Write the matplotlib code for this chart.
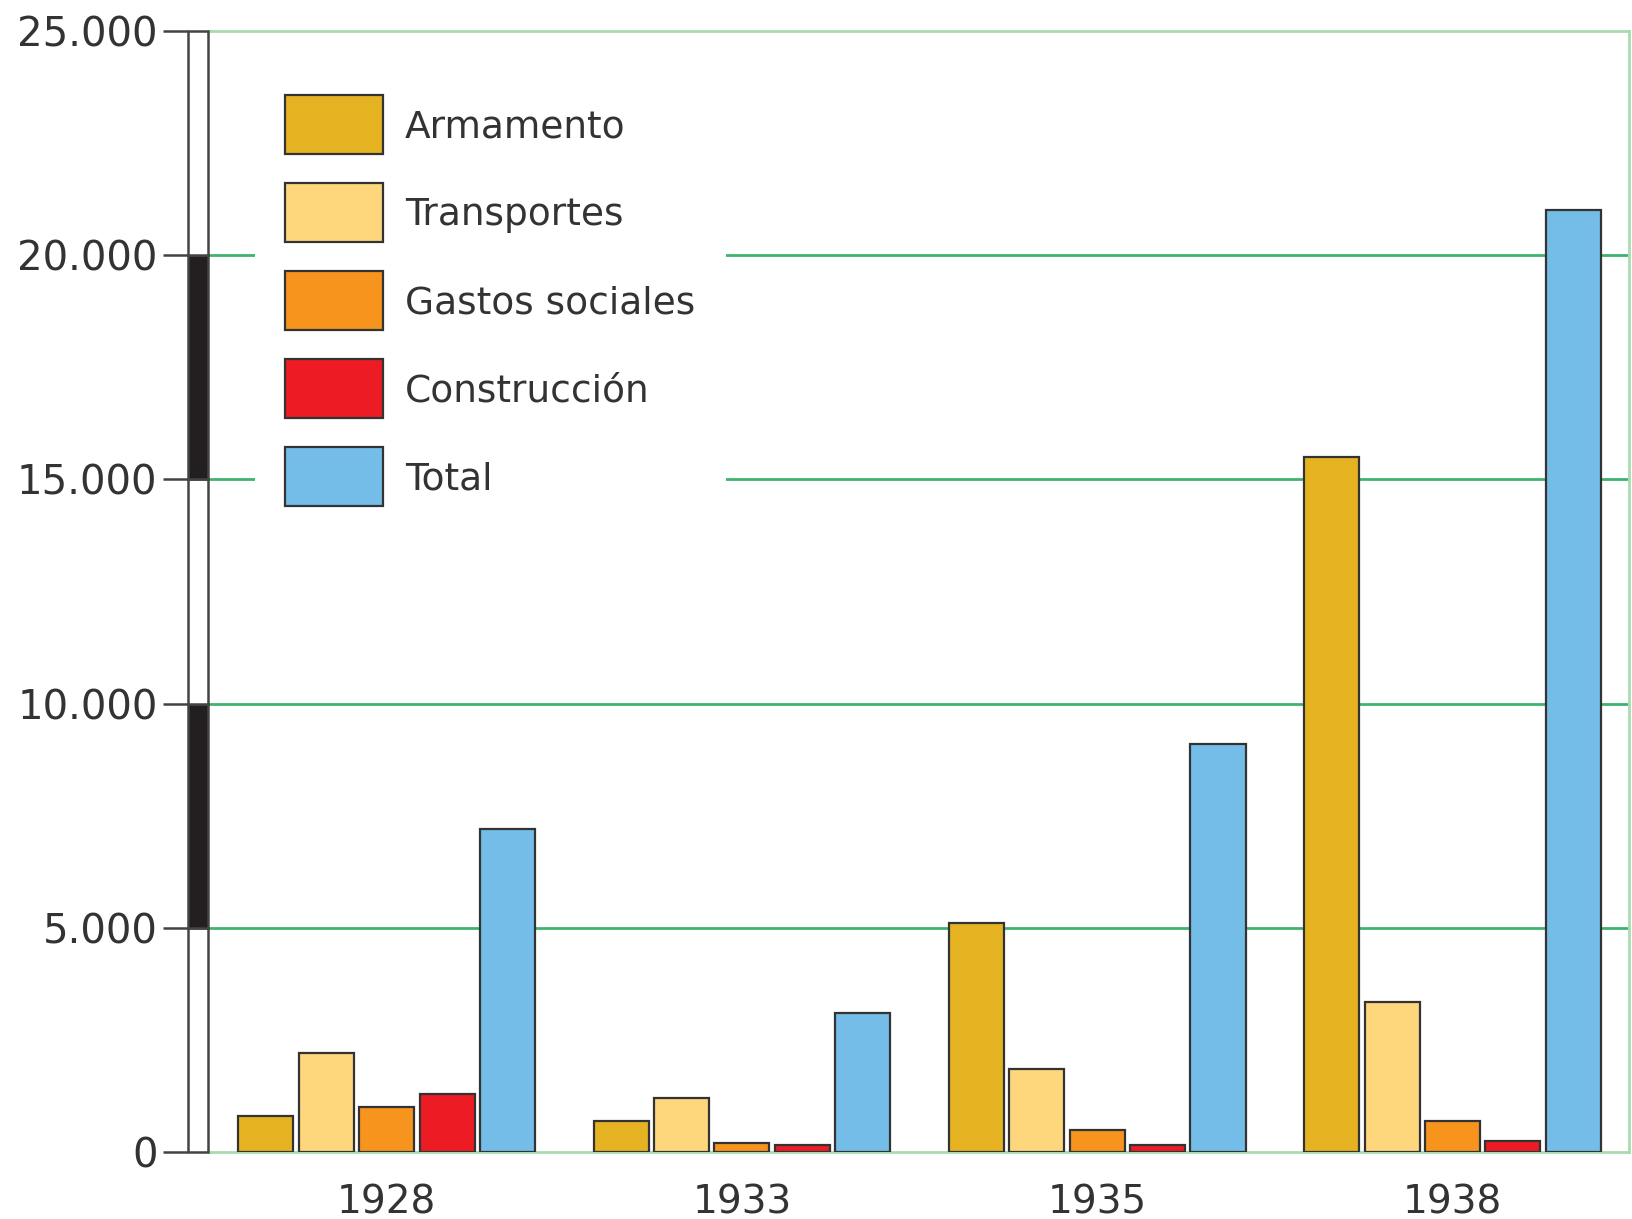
import matplotlib.pyplot as plt
import matplotlib.patches as mpatches
import numpy as np

# gasto publico aleman (millones de marcos)
years      = ["1928", "1933", "1935", "1938"]
series     = ["Armamento", "Transportes", "Gastos sociales", "Construcción", "Total"]
armamento  = [800, 700, 5100, 15500]
transporte = [2200, 1200, 1850, 3350]
sociales   = [1000, 200, 500, 700]
construc   = [1300, 150, 150, 250]
total      = [7200, 3100, 9100, 21000]
yticks     = [0, 5000, 10000, 15000, 20000, 25000]
ylabels    = ["0", "5.000", "10.000", "15.000", "20.000", "25.000"]

colors = ["#E5B222", "#FED77C", "#F7941D", "#ED1C24", "#74BDE8"]
edge   = "#333333"
grid_g = "#3DB36F"
light_g = "#A8DDB0"
text_c = "#333333"

fig = plt.figure(figsize=(16.32, 12.19), dpi=100)
W, H = 1632.0, 1219.0
top_px, bot_px = 31.0, 1152.0
ax = fig.add_axes([208 / W, 1 - bot_px / H, 1421 / W, (bot_px - top_px) / H])
sc = fig.add_axes([188 / W, 1 - bot_px / H, 20 / W, (bot_px - top_px) / H])

x = np.arange(len(years))
step, width = 0.170, 0.155
data = [armamento, transporte, sociales, construc, total]
for i, (vals, name) in enumerate(zip(data, series)):
    ax.bar(x + (i - 2) * step, vals, width, color=colors[i], edgecolor=edge,
           linewidth=1.6, label=name, zorder=3)

ax.set_xlim(-0.503, 3.497)
ax.set_ylim(0, 25000)
ax.set_yticks(yticks[1:-1])
ax.tick_params(axis="y", left=False, labelleft=False)
ax.yaxis.grid(True, color=grid_g, linewidth=2.0)
ax.set_axisbelow(True)
ax.set_xticks(x)
ax.set_xticklabels(years, fontsize=28, color=text_c)
ax.tick_params(axis="x", bottom=False, pad=19)
for s in ["top", "right", "bottom"]:
    ax.spines[s].set_color(light_g)
    ax.spines[s].set_linewidth(2.0)
ax.spines["left"].set_visible(False)

# blanco detras de la leyenda (corta las lineas de la rejilla)
ax.add_patch(mpatches.Rectangle((0.033, 0.55), 0.3315, 0.41, transform=ax.transAxes,
                                facecolor="white", edgecolor="none", zorder=2))

leg = ax.legend(loc="upper left", bbox_to_anchor=(0.0542, 0.943), frameon=False,
                handlelength=2.43, handleheight=1.875,
                labelspacing=0.72, handletextpad=0.55, borderpad=0, borderaxespad=0,
                prop={"family": "DejaVu Sans", "size": 29})
for t in leg.get_texts():
    t.set_color(text_c)
    t.set_fontsize(27)
leg.set_zorder(5)

# escala de la izquierda, bloques blancos y negros
seg_bottom = yticks[:-1]
seg_height = np.diff(yticks)
seg_colors = ["white", "#231F20", "white", "#231F20", "white"]
segs = sc.bar(0, seg_height, 1, bottom=seg_bottom, color=seg_colors, edgecolor="#444444",
              linewidth=1.8, align="edge")
for p in segs:
    p.set_clip_on(False)
sc.set_xlim(0, 1)
sc.set_ylim(0, 25000)
sc.set_yticks(yticks)
sc.set_yticklabels(ylabels, fontsize=29, color=text_c)
sc.tick_params(axis="y", length=18, width=1.8, color="#444444", pad=4)
sc.set_xticks([])
for s in sc.spines.values():
    s.set_visible(False)

fig.savefig("out.png", dpi=100)
